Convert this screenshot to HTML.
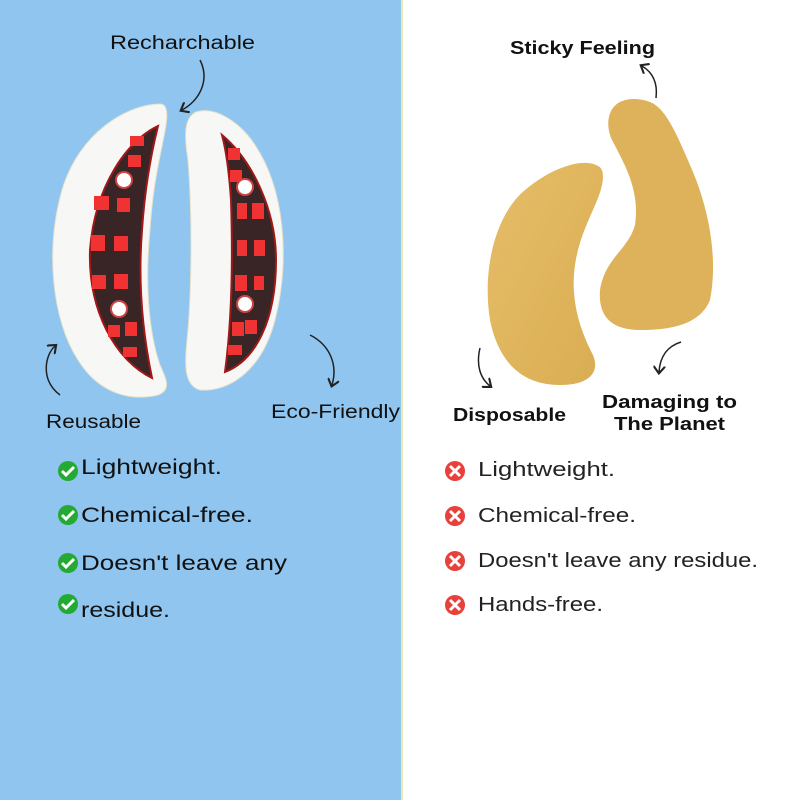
<!DOCTYPE html>
<html><head><style>
body{margin:0;width:800px;height:800px;overflow:hidden;font-family:"Liberation Sans",sans-serif;}
</style></head><body>
<svg width="800" height="800" viewBox="0 0 800 800" xmlns="http://www.w3.org/2000/svg">
<defs>
<marker id="ah" markerWidth="8" markerHeight="8" refX="4" refY="4" orient="auto"><path d="M0,0 L5,4 L0,8" fill="none" stroke="#222" stroke-width="1.4"/></marker>
<linearGradient id="gel" x1="0" y1="0" x2="1" y2="1"><stop offset="0" stop-color="#e6bd68"/><stop offset="1" stop-color="#d9ad52"/></linearGradient>
</defs>
<rect x="0" y="0" width="402" height="800" fill="#8fc5ef"/>
<rect x="401" y="0" width="2" height="800" fill="#f3e7b0"/>
<rect x="403" y="0" width="397" height="800" fill="#fff"/>

<!-- left device -->
<path d="M160,104 C130,104 80,130 62,190 C45,250 52,320 78,360 C98,392 128,402 158,395 C172,390 166,378 160,365 C148,330 145,280 150,230 C153,180 162,150 166,125 C168,110 166,104 160,104Z" fill="#f7f7f5" stroke="#e8e2cc"/>
<path d="M158,126 C128,140 95,185 90,250 C88,310 115,360 152,378 C142,330 138,280 142,230 C145,185 152,150 158,126Z" fill="#3a2526" stroke="#a01818" stroke-width="2"/>
<g fill="#f03232">
<rect x="130" y="136" width="14" height="10"/><rect x="128" y="155" width="13" height="12"/>
<rect x="94" y="196" width="15" height="14"/><rect x="117" y="198" width="13" height="14"/>
<rect x="91" y="235" width="14" height="16"/><rect x="114" y="236" width="14" height="15"/>
<rect x="92" y="275" width="14" height="14"/><rect x="114" y="274" width="14" height="15"/>
<rect x="108" y="325" width="12" height="12"/><rect x="125" y="322" width="12" height="14"/>
<rect x="123" y="347" width="14" height="10"/>
</g>
<circle cx="124" cy="180" r="8" fill="#fff" stroke="#c44" stroke-width="2"/>
<circle cx="119" cy="309" r="8" fill="#fff" stroke="#c44" stroke-width="2"/>

<!-- right device -->
<path d="M196,112 C184,118 184,135 188,160 C192,210 192,280 188,330 C185,360 182,385 200,390 C230,392 262,370 275,320 C290,260 285,190 255,145 C240,122 215,106 196,112Z" fill="#f7f7f5" stroke="#e8e2cc"/>
<path d="M222,135 C252,160 276,210 276,260 C276,320 256,360 225,372 C232,320 233,260 231,200 C229,170 226,150 222,135Z" fill="#3a2526" stroke="#a01818" stroke-width="2"/>
<g fill="#f03232">
<rect x="228" y="148" width="12" height="12"/><rect x="230" y="170" width="12" height="12"/>
<rect x="237" y="203" width="10" height="16"/><rect x="252" y="203" width="12" height="16"/>
<rect x="237" y="240" width="10" height="16"/><rect x="254" y="240" width="11" height="16"/>
<rect x="235" y="275" width="12" height="16"/><rect x="254" y="276" width="10" height="14"/>
<rect x="232" y="322" width="12" height="14"/><rect x="245" y="320" width="12" height="14"/>
<rect x="228" y="345" width="14" height="10"/>
</g>
<circle cx="245" cy="187" r="8" fill="#fff" stroke="#c44" stroke-width="2"/>
<circle cx="245" cy="304" r="8" fill="#fff" stroke="#c44" stroke-width="2"/>

<!-- left labels/arrows -->
<text x="110" y="49" font-size="19" textLength="145" lengthAdjust="spacingAndGlyphs" fill="#111">Recharchable</text>
<path d="M200,60 C210,80 200,100 182,110" fill="none" stroke="#222" stroke-width="1.5" marker-end="url(#ah)"/>
<path d="M60,395 C40,380 45,355 55,346" fill="none" stroke="#222" stroke-width="1.5" marker-end="url(#ah)"/>
<text x="46" y="428" font-size="19" textLength="95" lengthAdjust="spacingAndGlyphs" fill="#111">Reusable</text>
<path d="M310,335 C330,345 338,365 332,385" fill="none" stroke="#222" stroke-width="1.5" marker-end="url(#ah)"/>
<text x="271" y="418" font-size="19" textLength="129" lengthAdjust="spacingAndGlyphs" fill="#111">Eco-Friendly</text>

<!-- gel patches -->
<path d="M598,166 C585,158 555,165 525,190 C495,215 482,270 490,320 C498,360 520,385 560,385 C590,385 600,372 593,355 C580,330 570,300 575,265 C580,230 598,205 602,185 C604,175 603,168 598,166Z" fill="url(#gel)"/>
<path d="M620,102 C608,108 605,125 612,140 C625,165 640,190 635,225 C628,250 605,258 600,290 C598,315 610,330 640,330 C670,330 700,325 710,300 C718,260 710,210 690,165 C675,130 665,108 650,102 C640,98 628,98 620,102Z" fill="#deb25a"/>

<text x="510" y="54" font-size="18" font-weight="bold" textLength="145" lengthAdjust="spacingAndGlyphs" fill="#111">Sticky Feeling</text>
<path d="M656,98 C658,82 652,72 642,66" fill="none" stroke="#222" stroke-width="1.5" marker-end="url(#ah)"/>
<path d="M480,348 C476,365 480,378 490,386" fill="none" stroke="#222" stroke-width="1.5" marker-end="url(#ah)"/>
<text x="453" y="421" font-size="18" font-weight="bold" textLength="113" lengthAdjust="spacingAndGlyphs" fill="#111">Disposable</text>
<path d="M681,342 C668,346 660,356 659,372" fill="none" stroke="#222" stroke-width="1.5" marker-end="url(#ah)"/>
<text x="602" y="408" font-size="18" font-weight="bold" textLength="135" lengthAdjust="spacingAndGlyphs" fill="#111">Damaging to</text>
<text x="614" y="430" font-size="18" font-weight="bold" textLength="111" lengthAdjust="spacingAndGlyphs" fill="#111">The Planet</text>

<!-- left list -->
<g font-size="21" fill="#111">
<g><circle cx="68" cy="471" r="10" fill="#22aa33"/><path d="M62,471 l4,4 l8,-8" stroke="#fff" stroke-width="3" fill="none"/><text x="81" y="474" textLength="141" lengthAdjust="spacingAndGlyphs">Lightweight.</text></g>
<g><circle cx="68" cy="515" r="10" fill="#22aa33"/><path d="M62,515 l4,4 l8,-8" stroke="#fff" stroke-width="3" fill="none"/><text x="81" y="522" textLength="172" lengthAdjust="spacingAndGlyphs">Chemical-free.</text></g>
<g><circle cx="68" cy="563" r="10" fill="#22aa33"/><path d="M62,563 l4,4 l8,-8" stroke="#fff" stroke-width="3" fill="none"/><text x="81" y="570" textLength="206" lengthAdjust="spacingAndGlyphs">Doesn't leave any</text></g>
<g><circle cx="68" cy="604" r="10" fill="#22aa33"/><path d="M62,604 l4,4 l8,-8" stroke="#fff" stroke-width="3" fill="none"/><text x="81" y="617" textLength="89" lengthAdjust="spacingAndGlyphs">residue.</text></g>
</g>

<!-- right list -->
<g font-size="20" fill="#222">
<g><circle cx="455" cy="471" r="10" fill="#e8403a"/><path d="M450,466 l10,10 M460,466 l-10,10" stroke="#fff" stroke-width="3"/><text x="478" y="476" textLength="137" lengthAdjust="spacingAndGlyphs">Lightweight.</text></g>
<g><circle cx="455" cy="516" r="10" fill="#e8403a"/><path d="M450,511 l10,10 M460,511 l-10,10" stroke="#fff" stroke-width="3"/><text x="478" y="522" textLength="158" lengthAdjust="spacingAndGlyphs">Chemical-free.</text></g>
<g><circle cx="455" cy="561" r="10" fill="#e8403a"/><path d="M450,556 l10,10 M460,556 l-10,10" stroke="#fff" stroke-width="3"/><text x="478" y="567" textLength="280" lengthAdjust="spacingAndGlyphs">Doesn't leave any residue.</text></g>
<g><circle cx="455" cy="605" r="10" fill="#e8403a"/><path d="M450,600 l10,10 M460,600 l-10,10" stroke="#fff" stroke-width="3"/><text x="478" y="611" textLength="125" lengthAdjust="spacingAndGlyphs">Hands-free.</text></g>
</g>
</svg>
</body></html>
